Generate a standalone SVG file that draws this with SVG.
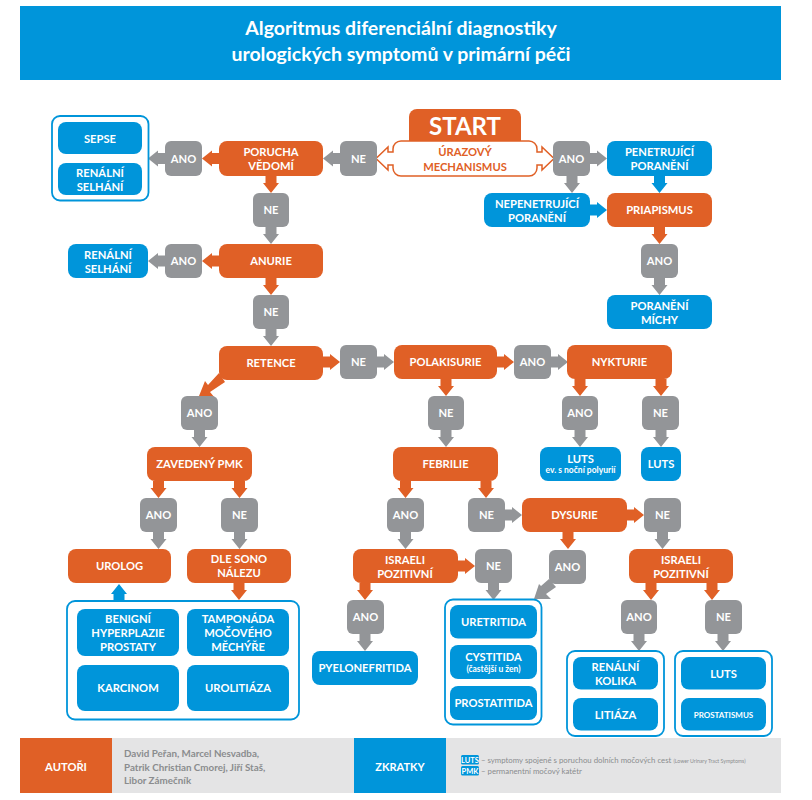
<svg xmlns="http://www.w3.org/2000/svg" width="812" height="800" viewBox="0 0 812 800">
<style>
text{font-family:"Lato","Open Sans","Liberation Sans",sans-serif;font-weight:700;fill:#fff;text-anchor:middle;font-size:11.2px}
.o{fill:#e06026}.b{fill:#0095da}.g{fill:#939598}
.f{fill:none;stroke:#0095da;stroke-width:1.8}
.h{font-size:19.5px}.s{font-size:8.5px}.p{font-size:8px}.t{fill:#e06026;font-size:11.200px}
.d{fill:#8a8c8e;font-size:9.800px;text-anchor:start}
.l{fill:#8a8c8e;font-size:7.800px;text-anchor:start;font-weight:400}
.x{font-size:5.200px;fill:#8a8c8e;font-weight:400}
.k{font-size:7.500px}.z{font-size:11px}
</style>
<defs><path id="a" d="M0-5.500H7V-8L17 0 7 8V5.500H0Z"/></defs>
<rect width="812" height="800" fill="#fff"/>
<g id="header"><rect class="b" x="20" y="6" width="761" height="74"/>
<text class="h" x="401" y="35">Algoritmus diferenciální diagnostiky</text>
<text class="h" x="401" y="61">urologických symptomů v primární péči</text></g>
<g id="connectors">
<g class="o">
<use href="#a" transform="translate(219,158.500) rotate(180)"/>
<use href="#a" transform="translate(271,176) rotate(90)"/>
<use href="#a" transform="translate(219,261) rotate(180)"/>
<use href="#a" transform="translate(271,278) rotate(90)"/>
<use href="#a" transform="translate(323,362)"/>
<path d="M219 373L225 382 210 392 215 398 199 396 205 381 208 385Z"/>
<use href="#a" transform="translate(497,362)"/>
<use href="#a" transform="translate(446,379) rotate(90)"/>
<use href="#a" transform="translate(158.500,481) rotate(90)"/>
<use href="#a" transform="translate(239.500,481) rotate(90)"/>
<use href="#a" transform="translate(405.500,481) rotate(90)"/>
<use href="#a" transform="translate(486,481) rotate(90)"/>
<use href="#a" transform="translate(580,379) rotate(90)"/>
<use href="#a" transform="translate(661,379) rotate(90)"/>
<use href="#a" transform="translate(627,515)"/>
<use href="#a" transform="translate(568,532) rotate(90)"/>
<use href="#a" transform="translate(458,566)"/>
<use href="#a" transform="translate(365,583) rotate(90)"/>
<use href="#a" transform="translate(651,583) rotate(90)"/>
<use href="#a" transform="translate(712,583) rotate(90)"/>
<use href="#a" transform="translate(239,583) rotate(90)"/>
<use href="#a" transform="translate(659.500,227) rotate(90)"/>
</g>
<g class="g">
<use href="#a" transform="translate(340,158.500) rotate(180)"/>
<use href="#a" transform="translate(165,158.500) rotate(180)"/>
<use href="#a" transform="translate(271,227) rotate(90)"/>
<use href="#a" transform="translate(165,261) rotate(180)"/>
<use href="#a" transform="translate(271,329) rotate(90)"/>
<use href="#a" transform="translate(377,362)"/>
<use href="#a" transform="translate(199.500,430) rotate(90)"/>
<use href="#a" transform="translate(158.500,532) rotate(90)"/>
<use href="#a" transform="translate(239.500,532) rotate(90)"/>
<use href="#a" transform="translate(446,430) rotate(90)"/>
<use href="#a" transform="translate(551,362)"/>
<use href="#a" transform="translate(405.500,532) rotate(90)"/>
<use href="#a" transform="translate(505,515)"/>
<use href="#a" transform="translate(493.500,583) rotate(90)"/>
<use href="#a" transform="translate(365,634) rotate(90)"/>
<path d="M549 579L556 587 546 594 551 599 534 599 539 584 541 586Z"/>
<use href="#a" transform="translate(662.500,532) rotate(90)"/>
<use href="#a" transform="translate(580,430) rotate(90)"/>
<use href="#a" transform="translate(661,430) rotate(90)"/>
<use href="#a" transform="translate(639,634) rotate(90)"/>
<use href="#a" transform="translate(723,634) rotate(90)"/>
<use href="#a" transform="translate(572,176) rotate(90)"/>
<use href="#a" transform="translate(590,158.500)"/>
<use href="#a" transform="translate(659.500,278) rotate(90)"/>
</g>
<g class="b">
<use href="#a" transform="translate(659.500,176) rotate(90)"/>
<use href="#a" transform="translate(590,210)"/>
<use href="#a" transform="translate(119,601) rotate(-90)"/>
</g>
</g>
<g id="start"><path class="o" d="M409 150V117a8 8 0 0 1 8-8H513a8 8 0 0 1 8 8V150Z"/>
<text x="465" y="135" style="font-size:24px">START</text></g>
<g id="urazovy"><path d="M401 141H529a8 8 0 0 1 8 8V152H542V147L554 158.500 542 170V165H537V168a8 8 0 0 1-8 8H401a8 8 0 0 1-8-8V165H388V170L376 158.500 388 147V152H393V149a8 8 0 0 1 8-8Z" fill="#fff" stroke="#e06026" stroke-width="1.500"/>
<text class="t" x="465" y="156">ÚRAZOVÝ</text><text class="t" x="465" y="171">MECHANISMUS</text></g>
<g id="ano-trauma"><rect class="g" x="553" y="141" width="37" height="35" rx="6"/><text x="571.500" y="163">ANO</text></g>
<g id="penetrujici"><rect class="b" x="607" y="141" width="105" height="35" rx="8"/><text x="659.500" y="156">PENETRUJÍCÍ</text><text x="659.500" y="170">PORANĚNÍ</text></g>
<g id="nepenetrujici"><rect class="b" x="484" y="193" width="106" height="34" rx="8"/><text x="537" y="208">NEPENETRUJÍCÍ</text><text x="537" y="222">PORANĚNÍ</text></g>
<g id="priapismus"><rect class="o" x="607" y="193" width="105" height="34" rx="8"/><text x="659.500" y="214">PRIAPISMUS</text></g>
<g id="ano-priapismus"><rect class="g" x="641" y="244" width="37" height="34" rx="6"/><text x="659.500" y="265">ANO</text></g>
<g id="poraneni-michy"><rect class="b" x="607" y="295" width="105" height="34" rx="8"/><text x="659.500" y="310">PORANĚNÍ</text><text x="659.500" y="324">MÍCHY</text></g>
<g id="skupina-sepse"><rect class="f" x="52" y="116" width="96.500" height="84.500" rx="8"/></g>
<g id="sepse"><rect class="b" x="58" y="122" width="84" height="32" rx="8"/><text x="100" y="142.500">SEPSE</text></g>
<g id="renalni-selhani-1"><rect class="b" x="58" y="163" width="84" height="32" rx="8"/><text x="100" y="177">RENÁLNÍ</text><text x="100" y="191">SELHÁNÍ</text></g>
<g id="ano-porucha"><rect class="g" x="165" y="141" width="37" height="35" rx="6"/><text x="183.500" y="163">ANO</text></g>
<g id="porucha"><rect class="o" x="219" y="141" width="104" height="35" rx="8"/><text x="271" y="156">PORUCHA</text><text x="271" y="170">VĚDOMÍ</text></g>
<g id="ne-trauma"><rect class="g" x="340" y="141" width="37" height="35" rx="6"/><text x="358.500" y="163">NE</text></g>
<g id="ne-porucha"><rect class="g" x="253" y="193" width="36" height="34" rx="6"/><text x="271" y="214">NE</text></g>
<g id="anurie"><rect class="o" x="219" y="244" width="104" height="34" rx="8"/><text x="271" y="265">ANURIE</text></g>
<g id="ano-anurie"><rect class="g" x="165" y="244" width="37" height="34" rx="6"/><text x="183.500" y="265">ANO</text></g>
<g id="renalni-selhani-2"><rect class="b" x="68" y="244" width="80" height="34" rx="8"/><text x="108" y="259">RENÁLNÍ</text><text x="108" y="273">SELHÁNÍ</text></g>
<g id="ne-anurie"><rect class="g" x="253" y="295" width="36" height="34" rx="6"/><text x="271" y="316">NE</text></g>
<g id="retence"><rect class="o" x="219" y="346" width="104" height="34" rx="8"/><text x="271" y="367">RETENCE</text></g>
<g id="ne-retence"><rect class="g" x="340" y="345" width="37" height="34" rx="6"/><text x="358.500" y="366">NE</text></g>
<g id="polakisurie"><rect class="o" x="394" y="345" width="103" height="34" rx="8"/><text x="445.500" y="366">POLAKISURIE</text></g>
<g id="ano-polakisurie"><rect class="g" x="514" y="345" width="37" height="34" rx="6"/><text x="532.500" y="366">ANO</text></g>
<g id="nykturie"><rect class="o" x="567" y="345" width="105" height="34" rx="8"/><text x="619.500" y="366">NYKTURIE</text></g>
<g id="ano-retence"><rect class="g" x="181" y="396" width="37" height="34" rx="6"/><text x="199.500" y="417">ANO</text></g>
<g id="ne-polakisurie"><rect class="g" x="428" y="396" width="36" height="34" rx="6"/><text x="446" y="417">NE</text></g>
<g id="ano-nykturie"><rect class="g" x="562" y="396" width="36" height="34" rx="6"/><text x="580" y="417">ANO</text></g>
<g id="ne-nykturie"><rect class="g" x="642" y="396" width="37" height="34" rx="6"/><text x="660.500" y="417">NE</text></g>
<g id="zavedeny-pmk"><rect class="o" x="147" y="447" width="105" height="34" rx="8"/><text x="199.500" y="468">ZAVEDENÝ PMK</text></g>
<g id="febrilie"><rect class="o" x="393" y="447" width="105" height="34" rx="8"/><text x="445.500" y="468">FEBRILIE</text></g>
<g id="luts-polyurie"><rect class="b" x="540" y="447" width="81" height="34" rx="8"/><text x="580.500" y="463">LUTS</text><text class="s" x="580.500" y="473">ev. s noční polyurií</text></g>
<g id="luts-1"><rect class="b" x="641" y="447" width="40" height="34" rx="8"/><text x="661" y="468">LUTS</text></g>
<g id="ano-pmk"><rect class="g" x="140" y="498" width="37" height="34" rx="6"/><text x="158.500" y="519">ANO</text></g>
<g id="ne-pmk"><rect class="g" x="221" y="498" width="37" height="34" rx="6"/><text x="239.500" y="519">NE</text></g>
<g id="ano-febrilie"><rect class="g" x="387" y="498" width="37" height="34" rx="6"/><text x="405.500" y="519">ANO</text></g>
<g id="ne-febrilie"><rect class="g" x="468" y="498" width="37" height="34" rx="6"/><text x="486.500" y="519">NE</text></g>
<g id="dysurie"><rect class="o" x="522" y="498" width="105" height="34" rx="8"/><text x="574.500" y="519">DYSURIE</text></g>
<g id="ne-dysurie"><rect class="g" x="644" y="498" width="37" height="34" rx="6"/><text x="662.500" y="519">NE</text></g>
<g id="urolog"><rect class="o" x="68" y="549" width="103" height="34" rx="8"/><text x="119.500" y="570">UROLOG</text></g>
<g id="dle-sono"><rect class="o" x="187" y="549" width="104" height="34" rx="8"/><text x="239" y="563">DLE SONO</text><text x="239" y="577">NÁLEZU</text></g>
<g id="israeli-1"><rect class="o" x="353" y="549" width="105" height="34" rx="8"/><text x="405" y="564">ISRAELI</text><text x="405" y="578">POZITIVNÍ</text></g>
<g id="ne-israeli-1"><rect class="g" x="475" y="549" width="37" height="34" rx="6"/><text x="493.500" y="570">NE</text></g>
<g id="ano-dysurie"><rect class="g" x="549" y="550" width="37" height="34" rx="6"/><text x="567.500" y="571">ANO</text></g>
<g id="israeli-2"><rect class="o" x="629" y="549" width="104" height="34" rx="8"/><text x="681" y="564">ISRAELI</text><text x="681" y="578">POZITIVNÍ</text></g>
<g id="skupina-urolog"><rect class="f" x="67" y="601" width="232" height="118.500" rx="8"/></g>
<g id="bhp"><rect class="b" x="77" y="609" width="102" height="47" rx="8"/><text x="128" y="623">BENIGNÍ</text><text x="128" y="637">HYPERPLAZIE</text><text x="128" y="651">PROSTATY</text></g>
<g id="tamponada"><rect class="b" x="187" y="609" width="102" height="47" rx="8"/><text x="238" y="623">TAMPONÁDA</text><text x="238" y="637">MOČOVÉHO</text><text x="238" y="651">MĚCHÝŘE</text></g>
<g id="karcinom"><rect class="b" x="77" y="665" width="102" height="46" rx="8"/><text x="128" y="692">KARCINOM</text></g>
<g id="urolitiaza"><rect class="b" x="187" y="665" width="102" height="46" rx="8"/><text x="238" y="692">UROLITIÁZA</text></g>
<g id="ano-israeli-1"><rect class="g" x="347" y="600" width="37" height="34" rx="6"/><text x="365.500" y="621">ANO</text></g>
<g id="pyelonefritida"><rect class="b" x="312" y="651" width="106" height="34" rx="8"/><text x="365" y="672">PYELONEFRITIDA</text></g>
<g id="skupina-uretritida"><rect class="f" x="445" y="599.500" width="96.500" height="125" rx="8"/></g>
<g id="uretritida"><rect class="b" x="450" y="605" width="87" height="33.500" rx="8"/><text x="493.500" y="626">URETRITIDA</text></g>
<g id="cystitida"><rect class="b" x="450" y="645" width="87" height="34" rx="8"/><text x="493.500" y="661">CYSTITIDA</text><text class="s" x="493.500" y="672">(častější u žen)</text></g>
<g id="prostatitida"><rect class="b" x="450" y="686" width="87" height="34" rx="8"/><text x="493.500" y="707">PROSTATITIDA</text></g>
<g id="ano-israeli-2"><rect class="g" x="621" y="600" width="36" height="34" rx="6"/><text x="639" y="621">ANO</text></g>
<g id="ne-israeli-2"><rect class="g" x="705" y="600" width="37" height="34" rx="6"/><text x="723.500" y="621">NE</text></g>
<g id="skupina-kolika"><rect class="f" x="567" y="651" width="97" height="85" rx="8"/></g>
<g id="renalni-kolika"><rect class="b" x="573" y="657" width="85" height="32.500" rx="8"/><text x="615.500" y="671">RENÁLNÍ</text><text x="615.500" y="685">KOLIKA</text></g>
<g id="litiaza"><rect class="b" x="573" y="698" width="85" height="32.500" rx="8"/><text x="615.500" y="718.500">LITIÁZA</text></g>
<g id="skupina-luts"><rect class="f" x="675" y="651" width="97" height="85" rx="8"/></g>
<g id="luts-2"><rect class="b" x="681" y="657" width="85" height="32.500" rx="8"/><text x="723.500" y="677.500">LUTS</text></g>
<g id="prostatismus"><rect class="b" x="681" y="698" width="85" height="32.500" rx="8"/><text class="p" x="723.500" y="717.500">PROSTATISMUS</text></g>
<g id="autori"><rect x="20" y="738" width="334" height="55" fill="#e4e4e5"/><rect class="o" x="20" y="738" width="92" height="55"/><text x="66" y="771">AUTOŘI</text>
<text class="d" x="124" y="757">David Peřan, Marcel Nesvadba,</text>
<text class="d" x="124" y="771">Patrik Christian Cmorej, Jiří Staš,</text>
<text class="d" x="124" y="784">Libor Zámečník</text></g>
<g id="zkratky"><rect x="354" y="738" width="427" height="55" fill="#e4e4e5"/><rect class="b" x="354" y="738" width="92" height="55"/><text class="z" x="400" y="771">ZKRATKY</text>
<rect class="b" x="461" y="755" width="18" height="9.500" rx="1.500"/><text class="k" x="470" y="762.500">LUTS</text>
<text class="l" x="481" y="762.500">– symptomy spojené s poruchou dolních močových cest <tspan class="x">(Lower Urinary Tract Symptoms)</tspan></text>
<rect class="b" x="461" y="766" width="18" height="9.500" rx="1.500"/><text class="k" x="470" y="773.500">PMK</text>
<text class="l" x="481" y="773.500">– permanentní močový katétr</text></g>
</svg>
